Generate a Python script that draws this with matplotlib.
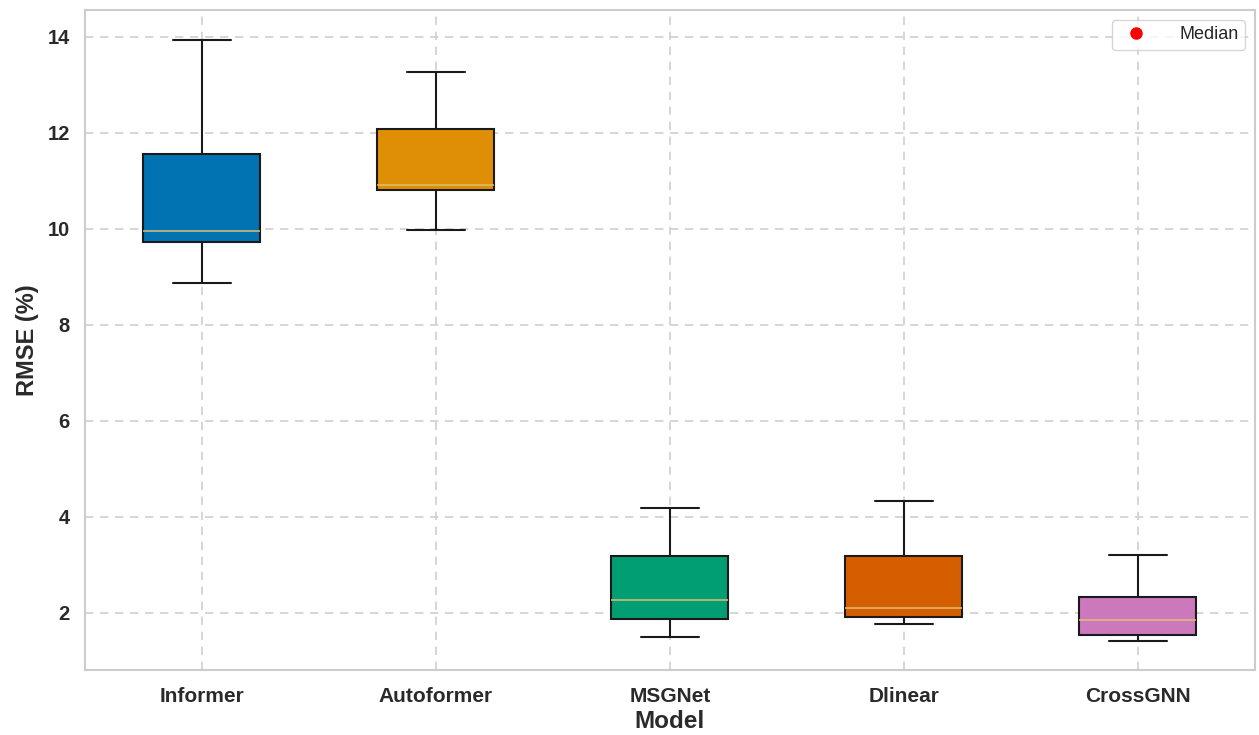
import matplotlib
matplotlib.use("Agg")
import matplotlib.pyplot as plt
from matplotlib.lines import Line2D
import seaborn as sns

models = ["Informer", "Autoformer", "MSGNet", "Dlinear", "CrossGNN"]
whisker_low = [8.87, 9.98, 1.49, 1.76, 1.41]
q1 = [9.73, 10.80, 1.87, 1.92, 1.54]
median = [9.96, 10.92, 2.27, 2.11, 1.85]
q3 = [11.56, 12.09, 3.19, 3.19, 2.33]
whisker_high = [13.94, 13.26, 4.18, 4.34, 3.21]
colors = ["#0173b2", "#de8f05", "#029e73", "#d55e00", "#cc78bc"]

sns.set_style("whitegrid")
plt.rcParams["font.family"] = ["Liberation Sans", "DejaVu Sans"]

fig = plt.figure(figsize=(12.59, 7.35), dpi=100)
ax = fig.add_axes([0.0675, 0.0884, 0.9293, 0.898])

stats = []
for i, m in enumerate(models):
    stats.append(dict(label=m, whislo=whisker_low[i], q1=q1[i], med=median[i],
                      q3=q3[i], whishi=whisker_high[i], fliers=[]))

bp = ax.bxp(stats, positions=range(len(models)), widths=0.5, patch_artist=True,
            showfliers=False,
            boxprops=dict(edgecolor="#1a1a1a", linewidth=1.5),
            whiskerprops=dict(color="#1a1a1a", linewidth=1.5),
            capprops=dict(color="#1a1a1a", linewidth=1.5),
            medianprops=dict(color="#dcc070", linewidth=1.3, alpha=0.85))
for patch, c in zip(bp["boxes"], colors):
    patch.set_facecolor(c)

ax.set_xlim(-0.5, 4.5)
ax.set_ylim(0.81, 14.56)
ax.set_yticks([2, 4, 6, 8, 10, 12, 14])
ax.grid(True, linestyle=(0, (5, 4)), color="#d0d0d0", linewidth=1.2)
ax.set_axisbelow(True)
for s in ax.spines.values():
    s.set_color("#cccccc")
    s.set_linewidth(1.5)

ax.tick_params(axis="x", labelsize=15, length=0, pad=12)
ax.tick_params(axis="y", labelsize=14.5, length=0, pad=11)
for lab in ax.get_xticklabels() + ax.get_yticklabels():
    lab.set_fontweight("bold")
    lab.set_color("#2a2a2a")

ax.set_xlabel("Model", fontsize=17.5, fontweight="bold", color="#2a2a2a", labelpad=3)
ax.set_ylabel("RMSE (%)", fontsize=17, fontweight="bold", color="#2a2a2a", labelpad=6)

handle = Line2D([], [], marker="o", color="red", linestyle="none", markersize=8)
ax.legend([handle], ["Median"], loc="upper right", fontsize=13, frameon=True,
          borderpad=0.35, handletextpad=1.4, borderaxespad=0.55)

fig.savefig("out.png", dpi=100)
